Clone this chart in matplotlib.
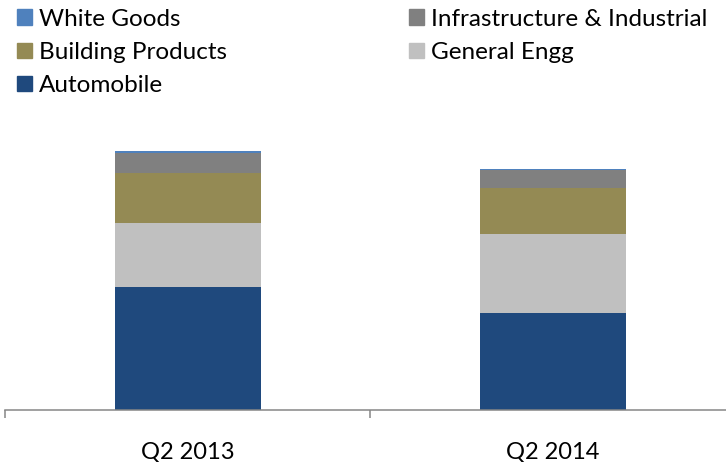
import matplotlib
matplotlib.use("Agg")
import matplotlib.pyplot as plt
import matplotlib.patches as mpatches
import numpy as np

# categories and segment values (arbitrary units)
quarters = ["Q2 2013", "Q2 2014"]
automobile = [123.0, 96.7]
general_engg = [64.3, 79.3]
building_products = [49.4, 45.7]
infra_industrial = [20.0, 18.3]
white_goods = [2.6, 0.7]

series = [
    ("Automobile", automobile, "#1F497D"),
    ("General Engg", general_engg, "#C0C0C0"),
    ("Building Products", building_products, "#948A54"),
    ("Infrastructure & Industrial", infra_industrial, "#808080"),
    ("White Goods", white_goods, "#4F81BD"),
]

plt.rcParams["font.family"] = ["Lato", "DejaVu Sans"]

fig = plt.figure(figsize=(7.26, 4.62), dpi=100)
W, H = 726, 462
# axes placed in pixel terms: baseline at y=410, category ticks at x=5, 370, 735
ax = fig.add_axes([5 / W, (H - 410) / H, 730 / W, 300 / H])

x = np.arange(len(quarters)) + 0.5
bottom = np.zeros(len(quarters))
handles = {}
for name, vals, col in series:
    ax.bar(x, vals, width=0.4, bottom=bottom, color=col, edgecolor="none")
    bottom += np.array(vals)
    handles[name] = mpatches.Patch(color=col, label=name)

ax.set_xlim(0, 2)
ax.set_ylim(0, 300)
ax.set_yticks([])
for s in ["top", "right", "left"]:
    ax.spines[s].set_visible(False)
ax.spines["bottom"].set_color("#868686")
ax.spines["bottom"].set_linewidth(1.1)

ax.set_xticks([0, 1, 2])
ax.set_xticklabels([])
ax.tick_params(axis="x", which="major", direction="out", length=6, width=1.1, color="#868686")
ax.set_xticks(x, minor=True)
ax.set_xticklabels(quarters, minor=True, fontsize=17)
ax.tick_params(axis="x", which="minor", length=0, pad=23)

order = ["White Goods", "Building Products", "Automobile",
         "Infrastructure & Industrial", "General Engg"]
fig.legend([handles[n] for n in order], order, loc="upper left",
           bbox_to_anchor=(12 / W, 1 - 4 / H), ncol=2, frameon=False,
           fontsize=17.5, handlelength=0.62, handleheight=0.62,
           handletextpad=0.29, labelspacing=0.5, columnspacing=7.5,
           borderpad=0.2, borderaxespad=0)

fig.savefig("out.png", dpi=100)
